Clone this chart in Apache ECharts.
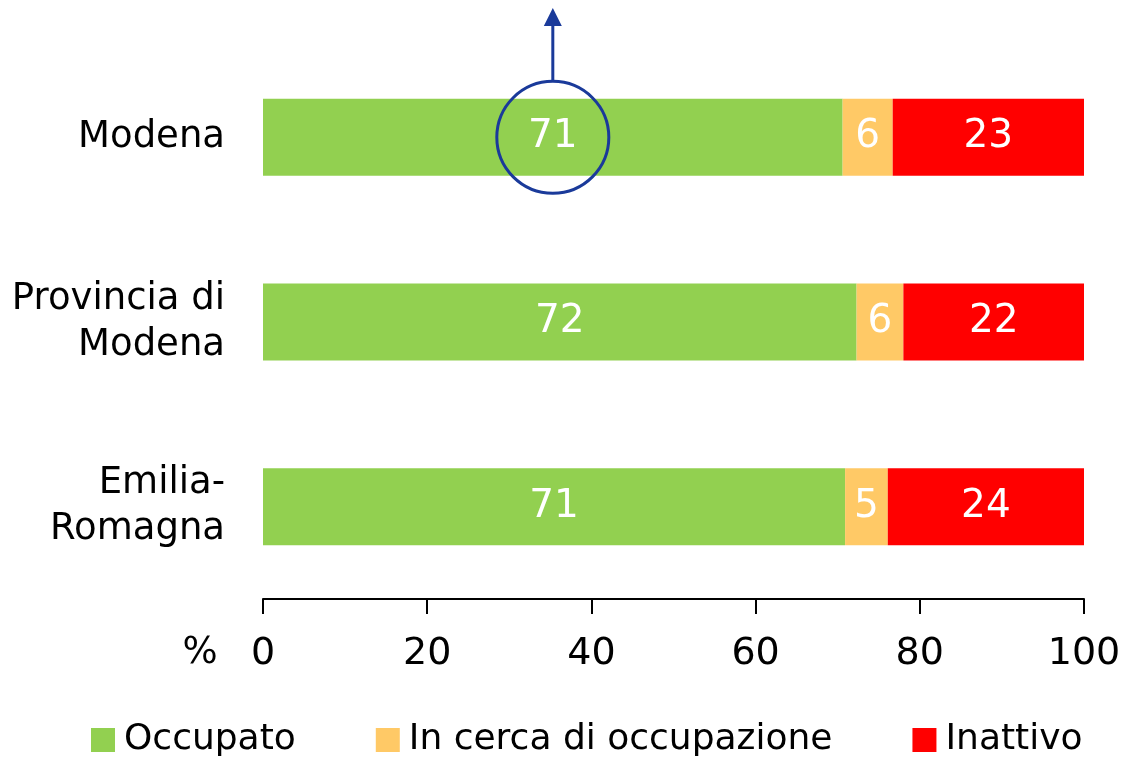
<!DOCTYPE html>
<html><head><meta charset="utf-8">
<script src="https://cdn.jsdelivr.net/npm/echarts@6/dist/echarts.min.js"></script>
<style>html,body{margin:0;padding:0;background:#fff}#c{width:1129px;height:763px}</style>
</head><body><div id="c"></div>
<script>
const categories = ['Modena', 'Provincia di\nModena', 'Emilia-\nRomagna'];
const occupato = [70.6, 72.3, 70.9];
const inCerca = [6.1, 5.7, 5.2];
const inattivo = [23.3, 22.0, 23.9];
const seriesNames = ['Occupato', 'In cerca di occupazione', 'Inattivo'];
const xTicks = [0, 20, 40, 60, 80, 100];

const FONT = '"DejaVu Sans", sans-serif';
const colors = ['#92D050', '#FFC966', '#FF0000'];
const chart = echarts.init(document.getElementById('c'));
function mk(name, data, color) {
  return {
    name, type: 'bar', stack: 'tot', data, barWidth: 77,
    itemStyle: { color },
    label: { show: true, position: 'inside', color: '#fff', fontSize: 39, fontFamily: FONT,
      formatter: p => Math.round(p.value) }
  };
}
chart.setOption({
  animation: false,
  textStyle: { fontFamily: FONT },
  grid: { left: 263, right: 45, top: 45, bottom: 164, containLabel: false },
  legend: {
    bottom: 0, left: 86, itemWidth: 24, itemHeight: 24, itemGap: 80,
    icon: 'rect', textStyle: { fontSize: 36, color: '#000', fontFamily: FONT, padding: [0, 0, 0, 4] },
    data: seriesNames
  },
  xAxis: {
    type: 'value', min: xTicks[0], max: xTicks[xTicks.length - 1], interval: 20,
    axisLine: { show: true, lineStyle: { color: '#000', width: 2 } },
    axisTick: { show: true, length: 15, lineStyle: { color: '#000', width: 2 } },
    splitLine: { show: false },
    axisLabel: { fontSize: 38, color: '#000', margin: 36, fontFamily: FONT }
  },
  yAxis: {
    type: 'category', inverse: true, data: categories,
    axisLine: { show: false }, axisTick: { show: false },
    axisLabel: { fontSize: 37, color: '#000', margin: 38, lineHeight: 46, align: 'right', fontFamily: FONT }
  },
  series: [mk(seriesNames[0], occupato, colors[0]), mk(seriesNames[1], inCerca, colors[1]), mk(seriesNames[2], inattivo, colors[2])]
});

const c = chart.convertToPixel({ gridIndex: 0 }, [occupato[0] / 2, 0]);
const r = 56;
const blue = '#1A3A9A';
chart.setOption({
  graphic: [
    { type: 'circle', shape: { cx: c[0], cy: c[1], r }, style: { fill: 'none', stroke: blue, lineWidth: 3 }, z: 100 },
    { type: 'line', shape: { x1: c[0], y1: c[1] - r, x2: c[0], y2: 22 }, style: { stroke: blue, lineWidth: 3 }, z: 100 },
    { type: 'polygon', shape: { points: [[c[0], 8], [c[0] - 9, 26], [c[0] + 9, 26]] }, style: { fill: blue }, z: 100 },
    { type: 'text', x: 200, y: 653, style: { text: '%', fill: '#000', font: '37px ' + FONT, textAlign: 'center', textVerticalAlign: 'middle' } }
  ]
});
</script></body></html>
